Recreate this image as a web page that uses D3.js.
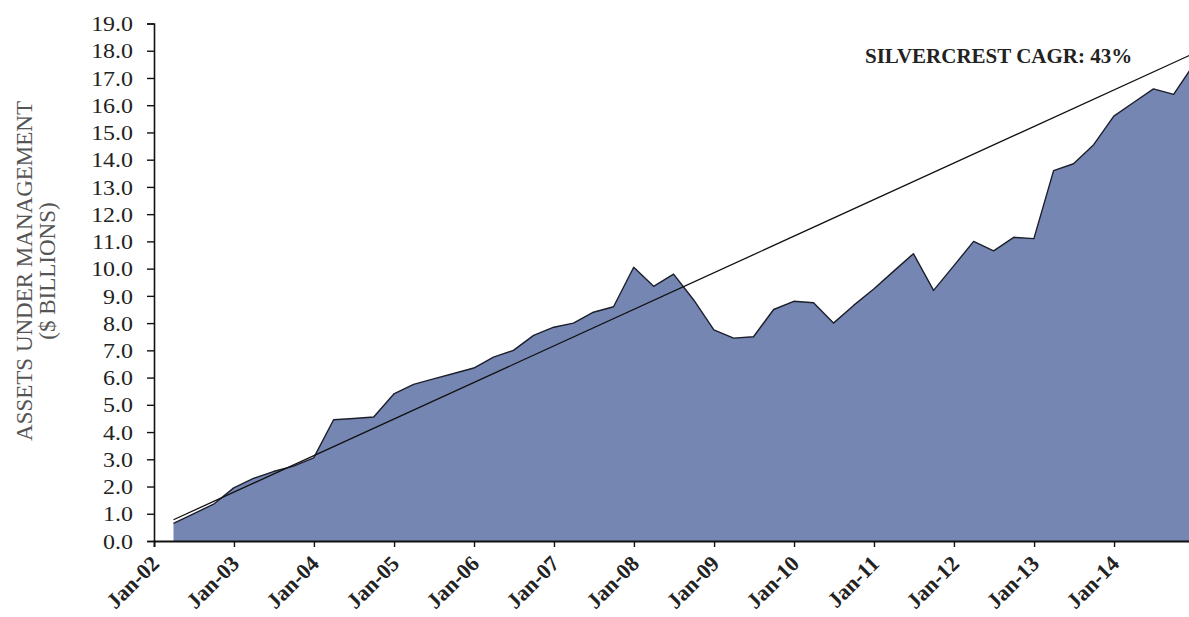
<!DOCTYPE html>
<html>
<head>
<meta charset="utf-8">
<script src="https://cdnjs.cloudflare.com/ajax/libs/d3/7.8.5/d3.min.js"></script>
<style>
  html, body { margin: 0; padding: 0; background: #fff; }
  svg { display: block; }
</style>
</head>
<body>
<svg id="chart" width="1189" height="617"></svg>
<script>
// ---- data ----
const quarterEnds = [
  "2002-03-31","2002-06-30","2002-09-30","2002-12-31",
  "2003-03-31","2003-06-30","2003-09-30","2003-12-31",
  "2004-03-31","2004-06-30","2004-09-30","2004-12-31",
  "2005-03-31","2005-06-30","2005-09-30","2005-12-31",
  "2006-03-31","2006-06-30","2006-09-30","2006-12-31",
  "2007-03-31","2007-06-30","2007-09-30","2007-12-31",
  "2008-03-31","2008-06-30","2008-09-30","2008-12-31",
  "2009-03-31","2009-06-30","2009-09-30","2009-12-31",
  "2010-03-31","2010-06-30","2010-09-30","2010-12-31",
  "2011-03-31","2011-06-30","2011-09-30","2011-12-31",
  "2012-03-31","2012-06-30","2012-09-30","2012-12-31",
  "2013-03-31","2013-06-30","2013-09-30","2013-12-31",
  "2014-03-31","2014-06-30","2014-09-30","2014-12-31"
];
const aumBillions = [
  0.65, 1.00, 1.35, 1.95,
  2.30, 2.55, 2.75, 3.05,
  4.45, 4.50, 4.55, 5.40,
  5.75, 5.95, 6.15, 6.35,
  6.75, 7.00, 7.55, 7.85,
  8.00, 8.40, 8.60, 10.05,
  9.35, 9.80, 8.85, 7.75,
  7.45, 7.50, 8.50, 8.80,
  8.75, 8.00, 8.65, 9.25,
  9.90, 10.55, 9.20, 10.10,
  11.00, 10.65, 11.15, 11.10,
  13.60, 13.85, 14.55, 15.60,
  16.10, 16.60, 16.40, 17.50
];
const trendDates = ["2002-03-31", "2014-12-31"];
const trendValues = [0.78, 17.9];
const yTickValues = [0,1,2,3,4,5,6,7,8,9,10,11,12,13,14,15,16,17,18,19];
const xTickLabels = ["Jan-02","Jan-03","Jan-04","Jan-05","Jan-06","Jan-07","Jan-08",
                     "Jan-09","Jan-10","Jan-11","Jan-12","Jan-13","Jan-14"];
const annotation = "SILVERCREST CAGR: 43%";
const yTitle1 = "ASSETS UNDER MANAGEMENT";
const yTitle2 = "($ BILLIONS)";

// ---- build ----
const parse = d3.timeParse("%Y-%m-%d");
const series = quarterEnds.map((d, i) => ({ date: parse(d), value: aumBillions[i] }));
const trend = trendDates.map((d, i) => ({ date: parse(d), value: trendValues[i] }));
const tickDates = xTickLabels.map(s => new Date(2000 + +s.slice(4), 0, 1));

const svg = d3.select("#chart");
const x = d3.scaleTime()
  .domain([new Date(2002, 0, 1), new Date(2015, 0, 1)])
  .range([154, 1194]);
const y = d3.scaleLinear().domain([0, 19]).range([541, 23.5]);

const serif = "'Liberation Serif','Times New Roman',Times,serif";

// area
const area = d3.area().x(d => x(d.date)).y0(y(0)).y1(d => y(d.value));
const line = d3.line().x(d => x(d.date)).y(d => y(d.value));

svg.append("path").datum(series)
  .attr("d", area)
  .attr("fill", "#7586b3");
svg.append("path").datum(series)
  .attr("d", line)
  .attr("fill", "none")
  .attr("stroke", "#1c1f2b")
  .attr("stroke-width", 1.4)
  .attr("stroke-linejoin", "round");

// trend line
svg.append("path").datum(trend)
  .attr("d", line)
  .attr("fill", "none")
  .attr("stroke", "#111")
  .attr("stroke-width", 1.3);

// y axis
const yAxis = svg.append("g")
  .attr("transform", `translate(${x(new Date(2002,0,1))},0)`)
  .call(d3.axisLeft(y).tickValues(yTickValues).tickFormat(d3.format(".1f"))
        .tickSize(7).tickPadding(14));
yAxis.select(".domain").attr("stroke", "#111").attr("stroke-width", 1.6);
yAxis.selectAll(".tick line").attr("stroke", "#111").attr("stroke-width", 1.4);
yAxis.selectAll(".tick text")
  .attr("font-family", serif).attr("font-size", 21).attr("fill", "#222")
  .attr("x", 0).attr("dy", "0.34em")
  .attr("transform", "translate(-21,0) scale(1.14,1)");

// x axis
const xAxis = svg.append("g")
  .attr("transform", `translate(0,${y(0)})`)
  .call(d3.axisBottom(x).tickValues(tickDates)
        .tickFormat((d, i) => xTickLabels[i]).tickSize(6));
xAxis.select(".domain").attr("stroke", "#111").attr("stroke-width", 1.8);
xAxis.selectAll(".tick line").attr("stroke", "#111").attr("stroke-width", 1.4);
xAxis.selectAll(".tick text")
  .attr("font-family", serif).attr("font-size", 22).attr("font-weight", "bold")
  .attr("fill", "#222")
  .attr("text-anchor", "end")
  .attr("x", 0).attr("y", 0).attr("dy", 0)
  .attr("transform", "translate(6,24) rotate(-45)");

// annotation
svg.append("text")
  .attr("x", 865).attr("y", 63)
  .attr("font-family", serif).attr("font-size", 21).attr("font-weight", "bold")
  .attr("fill", "#222")
  .text(annotation);

// y title
const yc = 271;
svg.append("text")
  .attr("transform", `translate(32,${yc}) rotate(-90)`)
  .attr("text-anchor", "middle")
  .attr("font-family", serif).attr("font-size", 23).attr("fill", "#555")
  .text(yTitle1);
svg.append("text")
  .attr("transform", `translate(55,${yc}) rotate(-90)`)
  .attr("text-anchor", "middle")
  .attr("font-family", serif).attr("font-size", 23).attr("fill", "#555")
  .text(yTitle2);
</script>
</body>
</html>
